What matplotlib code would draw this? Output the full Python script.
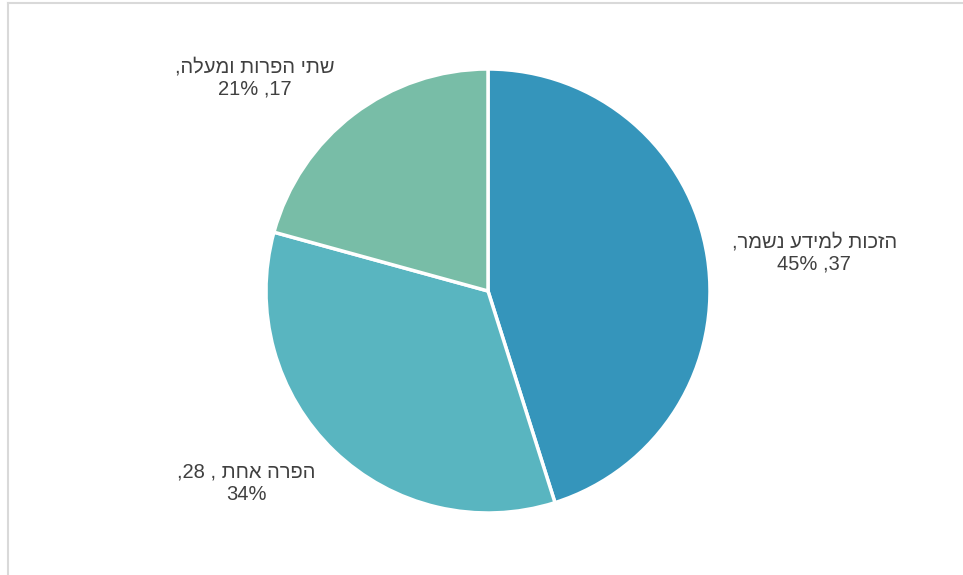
import matplotlib.pyplot as plt
from matplotlib.lines import Line2D

# Hebrew names stored in logical order; flipped to visual order for drawing
names = ["הזכות למידע נשמר", "הפרה אחת ", "שתי הפרות ומעלה"]
values = [37, 28, 17]
colors = ["#3595BB", "#59B5C0", "#78BDA7"]


def visual(s):
    # matplotlib has no bidi support, so reverse Hebrew runs for display
    return s[::-1]


total = sum(values)
pcts = [round(v * 100 / total) for v in values]

fig = plt.figure(figsize=(9.63, 5.75), dpi=100)
cx, cy, r = 488, 291, 222
ax = fig.add_axes([(cx - r) / 963, (575 - cy - r) / 575, 2 * r / 963, 2 * r / 575])
ax.pie(values, colors=colors, startangle=90, counterclock=False, radius=1,
       wedgeprops=dict(edgecolor="white", linewidth=2.5))
ax.set_xlim(-1, 1)
ax.set_ylim(-1, 1)
ax.set_aspect("auto")
ax.axis("off")

labels = [
    ("," + visual(names[0]), "%d%% ,%d" % (pcts[0], values[0])),
    (",%d ," % values[1] + visual(names[1]), "%d%%" % pcts[1]),
    ("," + visual(names[2]), "%d%% ,%d" % (pcts[2], values[2])),
]
label_pos = [(1.47, 0.17), (-1.09, -0.865), (-1.05, 0.96)]

for (l1, l2), (x, y) in zip(labels, label_pos):
    ax.text(x, y, l1 + "\n" + l2, ha="center", va="center", fontsize=14.5,
            color="#404040", family=["Liberation Sans", "DejaVu Sans"],
            linespacing=1.2, clip_on=False)

# chart frame (left and top edges visible)
fig.add_artist(Line2D([8 / 963, 8 / 963], [0, 1 - 3 / 575], color="#D9D9D9", lw=1.5))
fig.add_artist(Line2D([8 / 963, 1], [1 - 3 / 575, 1 - 3 / 575], color="#D9D9D9", lw=1.5))

plt.savefig("out.png", dpi=100)
